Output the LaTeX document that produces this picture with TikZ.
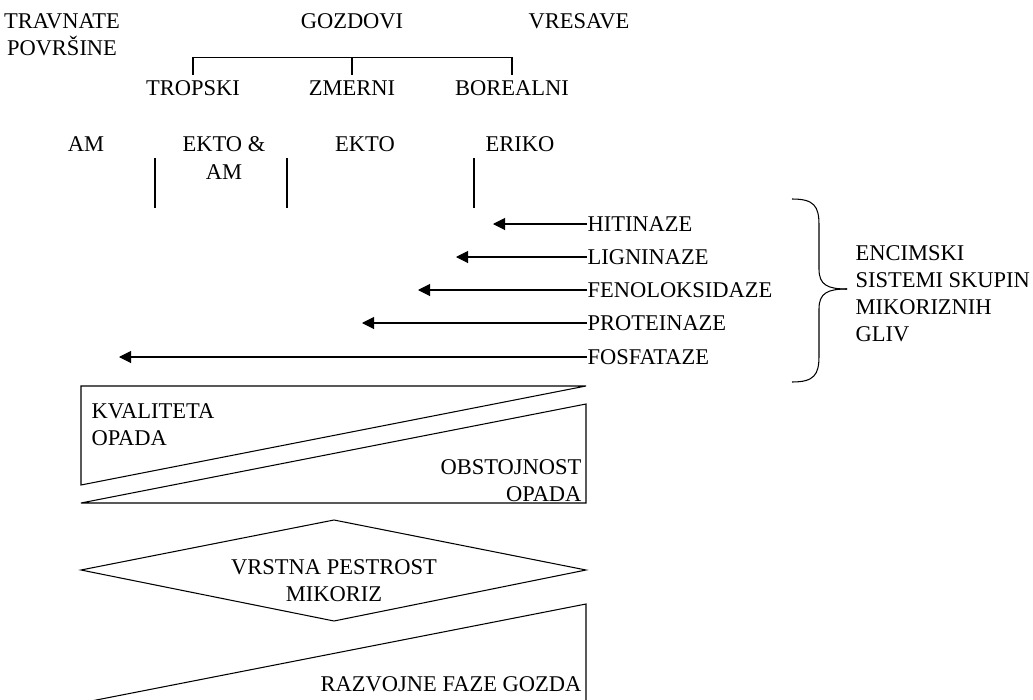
\documentclass[tikz,border=0pt]{standalone}
\usepackage{fontspec}
\setmainfont{Liberation Serif}
\usetikzlibrary{arrows.meta}

\begin{document}
\begin{tikzpicture}[>={Triangle[length=2.4mm,width=2.4mm]},line width=0.6pt,
  txt/.style={inner sep=0pt,font=\fontsize{12.8}{15.4}\selectfont},
  ctxt/.style={txt,align=center,anchor=north},
  ltxt/.style={txt,align=left,anchor=north west},
  rtxt/.style={txt,align=right,anchor=north east},
  enz/.style={txt,anchor=west}]
\clip (0,0) rectangle (20.66,-14);
\node[ctxt] (trav) at (1.24,-0.27) {TRAVNATE\\POVRŠINE};
\node[ctxt] (gozd) at (7.04,-0.27) {GOZDOVI};
\node[ctxt] (vres) at (11.58,-0.27) {VRESAVE};
\node[ctxt] (trop) at (3.86,-1.6) {TROPSKI};
\node[ctxt] (zmer) at (7.04,-1.6) {ZMERNI};
\node[ctxt] (bor) at (10.24,-1.6) {BOREALNI};
\draw ([yshift=1.1mm]trop.north) -- ++(0,3.4mm) -| ([yshift=1.1mm]bor.north);
\draw ([yshift=1.1mm]zmer.north) -- ++(0,3.4mm);
\node[ctxt] (am) at (1.72,-2.73) {AM};
\node[ctxt] (ektoam) at (4.48,-2.73) {EKTO \&\\AM};
\node[ctxt] (ekto) at (7.3,-2.73) {EKTO};
\node[ctxt] (eriko) at (10.4,-2.73) {ERIKO};
\draw (3.1,-3.16) -- (3.1,-4.16);
\draw (5.74,-3.16) -- (5.74,-4.16);
\draw (9.48,-3.16) -- (9.48,-4.16);
\node[enz] (hit) at (11.74,-4.48) {HITINAZE};
\node[enz] (lig) at (11.74,-5.14) {LIGNINAZE};
\node[enz] (fen) at (11.74,-5.8) {FENOLOKSIDAZE};
\node[enz] (prot) at (11.74,-6.46) {PROTEINAZE};
\node[enz] (fos) at (11.74,-7.14) {FOSFATAZE};
\coordinate (hitend) at (9.86,-4.48);
\coordinate (ligend) at (9.12,-5.14);
\coordinate (fenend) at (8.36,-5.8);
\coordinate (protend) at (7.24,-6.46);
\coordinate (fosend) at (2.38,-7.14);
\draw[->] (hit.west) -- (hitend);
\draw[->] (lig.west) -- (ligend);
\draw[->] (fen.west) -- (fenend);
\draw[->] (prot.west) -- (protend);
\draw[->] (fos.west) -- (fosend);
\draw (15.84,-3.98) .. controls (16.28,-3.98) and (16.38,-4.12) .. (16.38,-4.5) -- (16.38,-5.38) .. controls (16.38,-5.7) and (16.55,-5.78) .. (16.94,-5.78);
\draw (15.84,-7.64) .. controls (16.28,-7.64) and (16.38,-7.5) .. (16.38,-7.12) -- (16.38,-6.18) .. controls (16.38,-5.86) and (16.55,-5.78) .. (16.94,-5.78);
\node[ltxt] (encim) at (17.1,-4.9) {ENCIMSKI\\SISTEMI SKUPIN\\MIKORIZNIH\\GLIV};
\draw (1.62,-7.72) -- (11.72,-7.72) -- (1.62,-9.7) -- cycle;
\node[ltxt] (kval) at (1.82,-8.07) {KVALITETA\\OPADA};
\draw (11.72,-8.08) -- (11.72,-10.06) -- (1.62,-10.06) -- cycle;
\node[rtxt] (obst) at (11.64,-9.18) {OBSTOJNOST\\OPADA};
\draw (1.62,-11.4) -- (6.68,-10.4) -- (11.72,-11.4) -- (6.68,-12.42) -- cycle;
\node[ctxt] (pestr) at (6.68,-11.18) {VRSTNA PESTROST\\MIKORIZ};
\draw (11.72,-12.08) -- (11.72,-14.06) -- (1.62,-14.06) -- cycle;
\node[rtxt] (razv) at (11.64,-13.52) {RAZVOJNE FAZE GOZDA};
\end{tikzpicture}
\end{document}
